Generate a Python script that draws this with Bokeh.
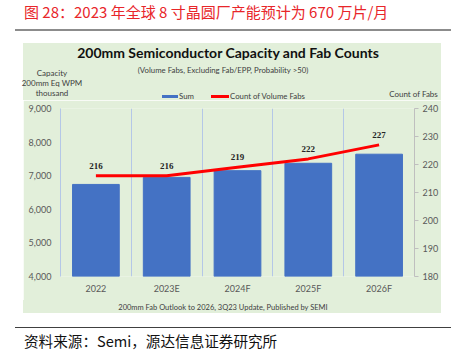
from bokeh.plotting import figure
from bokeh.models import (ColumnDataSource, Range1d, LinearAxis, FixedTicker, NumeralTickFormatter,
                          LabelSet, Div)
from bokeh.layouts import column
from bokeh.embed import file_html
from bokeh.resources import INLINE

# ---- data ----
categories = ["2022", "2023E", "2024F", "2025F", "2026F"]
capacity = [6740, 6950, 7150, 7370, 7640]
fab_counts = [216, 216, 219, 222, 227]
left_ticks = [4000, 5000, 6000, 7000, 8000, 9000]
right_ticks = [180, 190, 200, 210, 220, 230, 240]

page_title = "图 28：2023 年全球 8 寸晶圆厂产能预计为 670 万片/月"
chart_title = "200mm Semiconductor Capacity and Fab Counts"
chart_subtitle = "(Volume Fabs, Excluding Fab/EPP, Probability >50)"
left_axis_title = ["Capacity", "200mm Eq WPM", "thousand"]
right_axis_title = "Count of Fabs"
series_names = ["Sum", "Count of Volume Fabs"]
footer = "200mm Fab Outlook to 2026, 3Q23 Update, Published by SEMI"
source_note = "资料来源：Semi，源达信息证券研究所"

FONT = "Lato"
CJK = "Noto Sans CJK SC"
GREEN = "#E2EFDA"
BLUE = "#4472C4"
RED = "#FF0000"

W = 451
TOP_H = 100               # page y 0..100  (html header)
FIG_W, FIG_H = 418, 200   # page x 23..441, y 100..300
BOT_H = 51                # page y 300..351


def text_el(s, cy, size, left=None, cx=None, color="#404040", bold=False, font=FONT):
    lh = round(size * 1.4)
    top = cy - lh / 2
    weight = "bold" if bold else "normal"
    base = (f"position:absolute;top:{top}px;font-family:'{font}';font-size:{size}px;"
            f"line-height:{lh}px;color:{color};font-weight:{weight};white-space:nowrap;")
    if cx is not None:
        return f'<div style="{base}left:{cx - 200}px;width:400px;text-align:center;">{s}</div>'
    return f'<div style="{base}left:{left}px;">{s}</div>'


def rect_el(left, top, width, height, color):
    return (f'<div style="position:absolute;left:{left}px;top:{top}px;width:{width}px;'
            f'height:{height}px;background:{color};"></div>')


def wrap(inner, h):
    return (f'<div style="position:relative;width:{W}px;height:{h}px;overflow:hidden;'
            f'background:white;margin:0;padding:0;">{inner}</div>')


# ---- header (page coords y 0..100) ----
head = []
head.append(text_el(page_title, 11, 15, left=24, color="#E8262A", font=CJK))
head.append(rect_el(15, 29, 436, 1.5, "#8C8C8C"))
head.append(rect_el(23, 43, 418, TOP_H - 43, GREEN))
head.append(text_el(chart_title, 53, 14, cx=228, color="#111111", bold=True))
head.append(text_el(chart_subtitle, 70, 7.8, cx=223))
for s, y in zip(left_axis_title, [73, 83.5, 93]):
    head.append(text_el(s, y, 8, cx=52))
head.append(text_el(right_axis_title, 94, 8, cx=413.5))
# legend
head.append(rect_el(162, 94.5, 16, 3, BLUE))
head.append(text_el(series_names[0], 96, 7.8, left=179))
head.append(rect_el(211, 95, 18, 2.5, RED))
head.append(text_el(series_names[1], 96, 7.8, left=230))
top_div = Div(text=wrap("".join(head), TOP_H), width=W, height=TOP_H, margin=0)

# ---- chart ----
xs = list(range(1, len(categories) + 1))
src = ColumnDataSource(dict(x=xs, cap=capacity, fabs=fab_counts,
                            lbl=[str(v) for v in fab_counts]))

p = figure(width=FIG_W, height=FIG_H, output_backend="svg", toolbar_location=None,
           x_range=Range1d(0.5, len(categories) + 0.5),
           y_range=Range1d(left_ticks[0], left_ticks[-1]),
           min_border_left=37, min_border_right=25, min_border_top=8, min_border_bottom=24,
           outline_line_color=None, background_fill_color=GREEN, border_fill_color=GREEN,
           margin=(0, 0, 0, 23))
p.extra_y_ranges = {"fabs": Range1d(right_ticks[0], right_ticks[-1])}

bars = p.vbar(x="x", top="cap", bottom=left_ticks[0], width=0.66, source=src,
              fill_color=BLUE, line_color=BLUE)
line = p.line(x="x", y="fabs", source=src, y_range_name="fabs",
              line_color=RED, line_width=3)

p.add_layout(LabelSet(x="x", y="fabs", text="lbl", source=src, y_range_name="fabs",
                      y_offset=10, text_align="center", text_baseline="middle",
                      text_font=FONT, text_font_style="bold", text_font_size="9px",
                      text_color="#262626"))

p.xaxis.ticker = FixedTicker(ticks=xs)
p.xaxis.major_label_overrides = {i: c for i, c in zip(xs, categories)}
p.xaxis.axis_line_color = None
p.xaxis.major_tick_line_color = None
p.xaxis.major_tick_out = 0
p.xaxis.major_tick_in = 0
p.xaxis.minor_tick_line_color = None
p.xaxis.minor_tick_out = 0
p.xaxis.major_label_standoff = 6
p.xaxis.major_label_text_font = FONT
p.xaxis.major_label_text_font_size = "9px"
p.xaxis.major_label_text_color = "#595959"

p.yaxis.ticker = FixedTicker(ticks=left_ticks)
p.yaxis.formatter = NumeralTickFormatter(format="0,0")
p.yaxis.axis_line_color = "#B4C7E7"
p.yaxis.major_tick_line_color = None
p.yaxis.major_tick_out = 0
p.yaxis.major_tick_in = 0
p.yaxis.minor_tick_line_color = None
p.yaxis.minor_tick_out = 0
p.yaxis.major_label_standoff = 9
p.yaxis.major_label_text_font = FONT
p.yaxis.major_label_text_font_size = "9px"
p.yaxis.major_label_text_color = "#595959"

raxis = LinearAxis(y_range_name="fabs", ticker=FixedTicker(ticks=right_ticks))
raxis.axis_line_color = "#BFBFBF"
raxis.major_tick_line_color = "#BFBFBF"
raxis.major_tick_out = 4
raxis.major_tick_in = 0
raxis.minor_tick_line_color = None
raxis.minor_tick_out = 0
raxis.major_label_standoff = 4
raxis.major_label_text_font = FONT
raxis.major_label_text_font_size = "9px"
raxis.major_label_text_color = "#595959"
p.add_layout(raxis, "right")

p.ygrid.grid_line_color = None
p.xgrid.ticker = FixedTicker(ticks=[x + 0.5 for x in xs[:-1]])
p.xgrid.grid_line_color = "#B4C7E7"
p.xgrid.grid_line_width = 1

# ---- footer (page y 300..351) ----
foot = []
foot.append(rect_el(23, 0, 418, 13, GREEN))
foot.append(text_el(footer, 8, 7.5, cx=223))
foot.append(rect_el(15, 26.5, 436, 1.5, "#404040"))
foot.append(text_el(source_note, 41, 14.6, left=24, color="#111111", font=CJK))
bot_div = Div(text=wrap("".join(foot), BOT_H), width=W, height=BOT_H, margin=0)

layout = column(top_div, p, bot_div, spacing=0, margin=0)
open("out.html", "w").write(file_html(layout, INLINE))
